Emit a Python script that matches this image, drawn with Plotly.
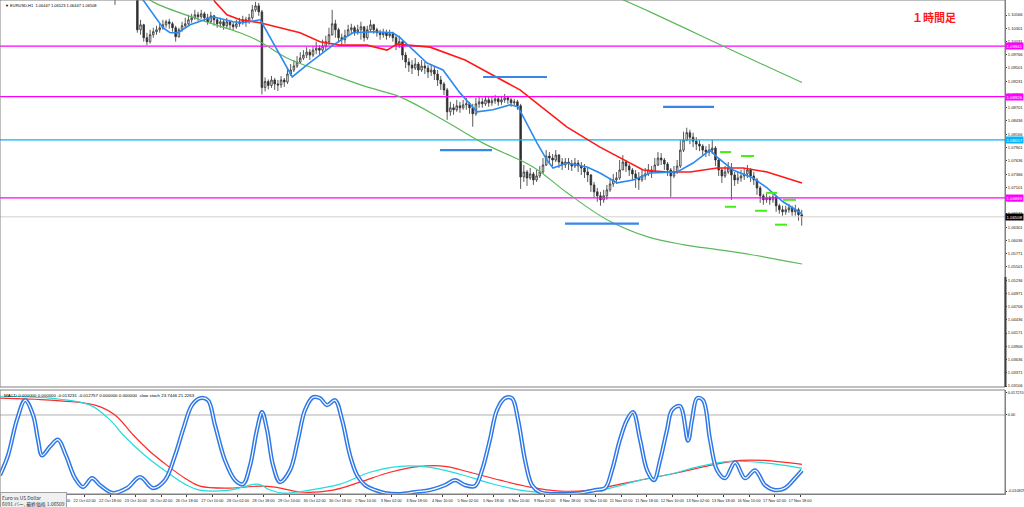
import plotly.graph_objects as go

# ---------------- data ----------------
first_bar_hour = 66          # hour index (0 = 20 Oct 02:00) of first 2-hour candle
first_open = 11095           # prices in pips (1/10000)
close_p = [11091,11103,11117,11123,11117,11107,11097,11027,11037,11011,11003,11017,11023,11027,11031,11037,
           11043,11039,11031,11013,11027,11035,11039,11047,11051,11057,11053,11059,11051,11043,11055,11047,
           11039,11043,11035,11043,11037,11033,11039,11043,11047,11043,11051,11067,11075,11063,10911,10923,
           10915,10926,10918,10916,10926,10922,10938,10946,10954,10962,10970,10976,10982,10976,10986,10990,
           10986,10994,11003,11017,11039,11027,11011,11007,11015,11027,11031,11023,11027,11033,11011,11027,
           11037,11027,11021,11017,11021,11015,11019,11011,10996,11003,10976,10962,10956,10950,10958,10946,
           10954,10950,10942,10946,10938,10926,10918,10906,10862,10870,10866,10874,10870,10876,10878,10870,
           10858,10878,10882,10878,10886,10880,10884,10888,10882,10886,10890,10886,10880,10882,10874,10731,
           10741,10729,10737,10725,10733,10741,10755,10773,10769,10765,10775,10761,10755,10761,10757,10753,
           10759,10753,10749,10741,10735,10715,10701,10693,10685,10693,10705,10717,10725,10729,10745,10761,
           10753,10745,10737,10729,10725,10733,10737,10745,10741,10755,10769,10765,10757,10745,10733,10741,
           10753,10785,10805,10820,10811,10803,10797,10793,10785,10781,10785,10789,10765,10745,10733,10741,
           10749,10735,10725,10729,10733,10737,10745,10733,10725,10709,10693,10685,10689,10685,10691,10673,
           10665,10661,10665,10669,10661,10665,10655,10651]
high_p = [11111,11117,11131,11137,11131,11123,11111,11095,11047,11039,11021,11027,11031,11035,11039,11047,
          11047,11049,11043,11035,11031,11043,11051,11057,11059,11067,11063,11067,11063,11059,11063,11057,
          11051,11051,11047,11051,11047,11043,11047,11051,11055,11053,11059,11077,11083,11081,11067,10931,
          10927,10934,10930,10926,10934,10930,10950,10958,10966,10974,10982,10986,10992,10988,10994,11003,
          10996,11007,11015,11031,11067,11047,11031,11019,11027,11037,11039,11035,11037,11043,11027,11035,
          11047,11039,11031,11027,11029,11027,11027,11023,11017,11015,10996,10982,10970,10966,10970,10962,
          10966,10962,10956,10958,10954,10946,10934,10922,10910,10882,10878,10886,10882,10886,10890,10882,
          10878,10890,10892,10890,10894,10892,10894,10896,10892,10894,10898,10894,10890,10888,10886,10878,
          10755,10745,10749,10741,10745,10753,10769,10785,10781,10777,10785,10777,10769,10769,10769,10765,
          10769,10765,10761,10757,10749,10737,10721,10709,10701,10705,10715,10729,10737,10741,10765,10775,
          10765,10757,10749,10745,10741,10745,10749,10757,10753,10769,10781,10779,10769,10761,10749,10753,
          10765,10805,10822,10830,10826,10820,10811,10805,10797,10793,10797,10805,10793,10769,10749,10753,
          10761,10759,10741,10741,10745,10749,10755,10749,10741,10729,10713,10697,10697,10693,10697,10689,
          10677,10673,10673,10677,10673,10675,10669,10665]
low_p = [11077,11087,11099,11107,11103,11093,11091,11021,11017,11003,10996,10999,11011,11017,11021,11027,
         11031,11029,11023,11003,11011,11023,11031,11035,11041,11047,11045,11049,11043,11037,11039,11035,
         11031,11031,11027,11029,11027,11025,11029,11033,11037,11033,11039,11047,11063,11055,10897,10903,
         10907,10910,10906,10904,10910,10912,10918,10934,10942,10950,10958,10966,10970,10966,10972,10978,
         10976,10982,10986,10996,11015,11011,11001,10996,10999,11015,11019,11015,11017,11007,11003,11007,
         11023,11019,11013,11007,11011,11007,11011,11003,10986,10990,10966,10950,10942,10938,10946,10934,
         10942,10938,10930,10934,10926,10914,10906,10896,10846,10854,10856,10862,10860,10866,10866,10858,
         10832,10854,10870,10870,10874,10872,10874,10878,10874,10876,10880,10878,10872,10874,10866,10707,
         10721,10713,10725,10715,10721,10729,10737,10753,10757,10753,10761,10749,10745,10749,10745,10743,
         10749,10741,10735,10729,10721,10701,10689,10681,10673,10679,10685,10701,10711,10717,10725,10749,
         10741,10733,10725,10709,10705,10721,10725,10733,10729,10741,10753,10755,10745,10733,10691,10729,
         10737,10749,10781,10803,10797,10791,10785,10783,10775,10771,10773,10777,10753,10733,10719,10729,
         10737,10685,10713,10717,10721,10725,10729,10721,10715,10695,10679,10675,10679,10675,10679,10661,
         10657,10653,10655,10659,10653,10653,10643,10633]

# moving averages / bands: (hour index, price in pips)
ma_blue_h = [81,84.5,97,101.5,106.5,114,128.4,141,147,158,178,187,203.5,216,228.6,241,245.5,262.4,272.4,283,
             293.7,303.7,314.4,319.4,331.3,337.5,341.3,350,362.6,370.7,381.4,391.4,402,419,429,439.6,444,454,
             466.5,475.3,485.3,497.2]
ma_blue_p = [11103,11087,11031,11021,11021,11037,11053,11043,11041,11047,10932,10956,10996,11021,11023,11021,
             11011,10960,10946,10900,10862,10866,10876,10872,10799,10765,10749,10759,10751,10739,10719,10725,
             10739,10741,10759,10785,10771,10745,10729,10709,10681,10657]
ma_red_h = [126.5,129.6,137.1,145.3,157.8,182.9,195.4,207.9,224.8,237.3,243.6,264.3,286.2,320.6,350.1,370.7,
            397.7,412.7,427.1,444,460.3,475.3,497.2]
ma_red_p = [11103,11083,11057,11047,11041,11021,11003,10996,10996,10986,10998,10992,10966,10906,10831,10791,
            10745,10741,10741,10749,10749,10741,10719]
green_low_h = [82.7,90.8,120.2,145.3,157.8,174.7,203.5,224.8,245.5,272.4,297.5,328.8,350.1,375.1,400.2,422.7,
               444,464.7,497.2]
green_low_p = [11103,11083,11047,11021,11003,10970,10936,10912,10892,10846,10799,10751,10699,10645,10611,10595,
               10585,10575,10556]
green_up_h = [378.2,402,433.3,466.5,497.2]
green_up_p = [11097,11063,11016,10966,10921]

# horizontal levels
magenta_levels = [1.09941, 1.08926, 1.06889]
cyan_level = 1.08057
last_price = 1.06508
blue_segments = [(297.5, 337.5, 10932), (270.5, 303.1, 10785), (410.2, 442.1, 10872), (348.8, 395.1, 10637)]
green_dashes = [(445.9, 452.8, 10781), (459.0, 467.2, 10773), (474.7, 481.6, 10699), (485.3, 493.5, 10685),
                (449.0, 455.9, 10671), (467.8, 475.3, 10663), (480.3, 487.8, 10635)]

# oscillator window (stochastic scale 0-100)
stoch_h = [-5,0,5.6,10.7,15.7,18.8,21.3,26.3,31.3,36.3,42,47,52.6,57.6,65.8,74.5,82.7,90.8,98.3,104.6,109.6,
           115.2,120.2,125.2,129.6,135.9,142.2,147.2,151.6,155.9,159.1,162.2,166,170.3,176.6,181.6,186,191,
           195.4,199.8,204.8,209.2,214.2,218.6,223.6,229.8,236.1,245.5,254.9,264.3,273.7,279.9,286.2,292.4,
           296.8,301.8,306.2,311.2,315.6,319.4,323.8,328.1,333.1,339.4,348.8,358.2,367.6,373.9,378.2,383.2,
           387.6,391.4,395.8,400.2,404.5,408.3,412.7,415.8,420.8,425.8,428.3,431.5,435.2,439.6,444,449,455.3,
           461.5,467.8,474,480.3,486.6,492.8,497.2]
stoch_v = [19,39,75,95,80,55,39,48,55,39,16,7,16,9,1,6,17,6,14,39,65,90,97,95,70,34,14,10,29,65,83,65,29,12,
           24,55,85,98,97,90,95,75,39,19,9,4,1,0,2,4,9,14,9,8,24,55,85,97,97,75,34,9,2,0,0,1,4,6,24,55,75,83,55,
           24,14,34,65,85,89,54,75,97,95,55,24,16,32,16,24,9,4,6,16,24]
macd_red_h = [-5,26.3,54.5,67,78.3,88.9,99.6,110.8,120.2,139,157.8,167.2,182.9,203.5,220.4,239.2,258,273.7,
              289.3,308.1,326.9,345.7,364.5,383.2,402,420.8,439.6,458.4,474,486.6,497.2]
macd_red_v = [97,95,90,80,60,43,29,16,8,6,8,7,2,4,12,22,28,28,22,14,7,3,4,10,16,22,29,34,34,32,30]
macd_cyan_h = [-5,26.3,51.4,63.9,72,85.8,99.6,110.8,120.2,139,156.6,164.1,172.2,189.1,207.9,226.7,245.5,264.3,
               283.1,301.8,320.6,339.4,358.2,377,395.8,414.6,433.3,452.1,471,486.6,497.2]
macd_cyan_v = [99,97,90,75,60,39,22,10,4,4,10,4,1,4,10,22,28,27,20,11,4,1,1,6,14,20,28,33,32,29,26]
stoch_level = 80

# axis labels
price_labels = ["1.10566","1.10301","1.10031","1.09766","1.09501","1.09231","1.08966","1.08701","1.08436",
                "1.08166","1.07901","1.07636","1.07366","1.07101","1.06836","1.06571","1.06301","1.06036",
                "1.05771","1.05501","1.05236","1.04971","1.04706","1.04436","1.04171","1.03906","1.03636",
                "1.03371","1.03106"]
time_labels = ["20 Oct 02:00","20 Oct 18:00","21 Oct 10:00","22 Oct 02:00","22 Oct 18:00","23 Oct 10:00",
               "26 Oct 02:00","26 Oct 18:00","27 Oct 10:00","28 Oct 02:00","28 Oct 18:00","29 Oct 10:00",
               "30 Oct 02:00","30 Oct 18:00","2 Nov 10:00","3 Nov 02:00","3 Nov 18:00","4 Nov 10:00",
               "5 Nov 02:00","5 Nov 18:00","6 Nov 10:00","9 Nov 02:00","9 Nov 18:00","10 Nov 10:00",
               "11 Nov 02:00","11 Nov 18:00","12 Nov 10:00","13 Nov 02:00","13 Nov 18:00","16 Nov 10:00",
               "17 Nov 02:00","17 Nov 18:00"]
hours_per_label = 16
osc_labels = ["0.017270", "0.00", "-0.010829"]
osc_label_pos = [103, 80, 3]
header_text = "▼ EURUSD,H1  1.06447 1.06523 1.06447 1.06508"
osc_text = "MACD 0.000000 0.000000 -0.013231 -0.012757 0.000000 0.000000  slow stoch 23.7446 21.2263"
tf_text = "１時間足"
info_lines = ["Euro vs US Dollar", "6091 バー, 最終価格 1.06509"]

# ---------------- build ----------------
pip = 1e-4
n = len(close_p)
bx = [first_bar_hour + 2 * i + 1 for i in range(n)]
opens = [first_open] + close_p[:-1]
O = [v * pip for v in opens]
C = [v * pip for v in close_p]
H = [max(h, o, c) * pip for h, o, c in zip(high_p, opens, close_p)]
L = [min(l, o, c) * pip for l, o, c in zip(low_p, opens, close_p)]

fig = go.Figure()
XR = [-5, 624.3]
FONT = "Liberation Sans"
MAIN_DOM = [0.2166, 1]
SUB_DOM = [0, 0.2105]

# horizontal lines (main)
for lv in magenta_levels:
    fig.add_trace(go.Scatter(x=XR, y=[lv, lv], mode="lines", line=dict(color="#ff00ff", width=1.2),
                             hoverinfo="skip", xaxis="x", yaxis="y"))
fig.add_trace(go.Scatter(x=XR, y=[cyan_level, cyan_level], mode="lines", line=dict(color="#00b4ff", width=1.2),
                         hoverinfo="skip", xaxis="x", yaxis="y"))
fig.add_trace(go.Scatter(x=XR, y=[last_price, last_price], mode="lines", line=dict(color="#d0d0d0", width=1),
                         hoverinfo="skip", xaxis="x", yaxis="y"))

fig.add_trace(go.Scatter(x=green_low_h, y=[v * pip for v in green_low_p], mode="lines",
                         line=dict(color="#5cb85c", width=1.2, shape="spline"), xaxis="x", yaxis="y"))
fig.add_trace(go.Scatter(x=green_up_h, y=[v * pip for v in green_up_p], mode="lines",
                         line=dict(color="#5cb85c", width=1.2, shape="spline"), xaxis="x", yaxis="y"))

fig.add_trace(go.Candlestick(x=bx, open=O, high=H, low=L, close=C,
                             increasing=dict(line=dict(color="#303030", width=0.8), fillcolor="#ffffff"),
                             decreasing=dict(line=dict(color="#303030", width=0.8), fillcolor="#303030"),
                             whiskerwidth=0, xaxis="x", yaxis="y"))

fig.add_trace(go.Scatter(x=ma_red_h, y=[v * pip for v in ma_red_p], mode="lines",
                         line=dict(color="#ff1a1a", width=1.6), xaxis="x", yaxis="y"))
fig.add_trace(go.Scatter(x=ma_blue_h, y=[v * pip for v in ma_blue_p], mode="lines",
                         line=dict(color="#2b8af0", width=1.6), xaxis="x", yaxis="y"))

for x0, x1, p in blue_segments:
    fig.add_trace(go.Scatter(x=[x0, x1], y=[p * pip, p * pip], mode="lines",
                             line=dict(color="#3a86e8", width=2.2), xaxis="x", yaxis="y"))
for x0, x1, p in green_dashes:
    fig.add_trace(go.Scatter(x=[x0, x1], y=[p * pip, p * pip], mode="lines",
                             line=dict(color="#44ee11", width=2), xaxis="x", yaxis="y"))

# oscillator
fig.add_trace(go.Scatter(x=XR, y=[stoch_level, stoch_level], mode="lines", line=dict(color="#b0b0b0", width=1),
                         xaxis="x2", yaxis="y2"))
fig.add_trace(go.Scatter(x=macd_red_h, y=macd_red_v, mode="lines",
                         line=dict(color="#ff2a2a", width=1.2, shape="spline"), xaxis="x2", yaxis="y2"))
fig.add_trace(go.Scatter(x=macd_cyan_h, y=macd_cyan_v, mode="lines",
                         line=dict(color="#22dddd", width=1.2, shape="spline"), xaxis="x2", yaxis="y2"))
fig.add_trace(go.Scatter(x=stoch_h, y=stoch_v, mode="lines",
                         line=dict(color="#2f78e6", width=4.2, shape="spline"), xaxis="x2", yaxis="y2"))
fig.add_trace(go.Scatter(x=stoch_h, y=stoch_v, mode="lines",
                         line=dict(color="#ffffff", width=1.2, shape="spline"), xaxis="x2", yaxis="y2"))

tickfont = dict(family=FONT, size=4.1, color="#202020")
fig.update_layout(
    width=1024, height=507, margin=dict(l=0, r=19, t=0, b=13, autoexpand=False),
    paper_bgcolor="white", plot_bgcolor="white", showlegend=False,
    xaxis=dict(domain=[0, 1], range=XR, anchor="y", showticklabels=False, showgrid=False, zeroline=False,
               rangeslider=dict(visible=False), fixedrange=True),
    yaxis=dict(domain=MAIN_DOM, range=[1.03086, 1.10868], side="right", anchor="x",
               tickvals=[float(s) for s in price_labels], ticktext=price_labels, tickfont=tickfont,
               ticks="outside", ticklen=1, tickcolor="#404040", showgrid=False, zeroline=False,
               showline=True, linecolor="#808080", linewidth=1, automargin=False),
    xaxis2=dict(domain=[0, 1], range=XR, anchor="y2", showgrid=False, zeroline=False,
                tickvals=[i * hours_per_label for i in range(len(time_labels))], ticktext=time_labels,
                tickfont=dict(family=FONT, size=3.9, color="#202020"), ticks="outside", ticklen=2,
                tickcolor="#404040", showline=True, linecolor="#808080", linewidth=1, tickangle=0,
                automargin=False),
    yaxis2=dict(domain=SUB_DOM, range=[0, 105.3], side="right", anchor="x2",
                tickvals=osc_label_pos, ticktext=osc_labels, tickfont=dict(family=FONT, size=3.8, color="#202020"),
                ticks="outside", ticklen=1, tickcolor="#404040", showgrid=False, zeroline=False,
                showline=True, linecolor="#808080", linewidth=1, automargin=False),
)

shapes = [
    dict(type="rect", xref="paper", yref="paper", x0=0, x1=1, y0=MAIN_DOM[0], y1=MAIN_DOM[1],
         line=dict(color="#808080", width=1)),
    dict(type="rect", xref="paper", yref="paper", x0=0, x1=1, y0=SUB_DOM[0], y1=SUB_DOM[1],
         line=dict(color="#808080", width=1)),
    dict(type="line", xref="paper", yref="paper", x0=1.0005, x1=1.0005, y0=MAIN_DOM[0], y1=0.4393,
         line=dict(color="#404040", width=2)),
]
fig.update_layout(shapes=shapes)

ann = []
def tag(yv, text, bg, fg="white"):
    ann.append(dict(xref="paper", yref="y", x=1.0, y=yv, xanchor="left", yanchor="middle", text=text,
                    showarrow=False, bgcolor=bg, font=dict(family=FONT, size=4.3, color=fg), borderpad=0.5))
for lv in magenta_levels:
    tag(lv, f"{lv:.5f}", "#ff00ff")
tag(cyan_level, f"{cyan_level:.5f}", "#00b4ff")
tag(last_price, f"{last_price:.5f}", "#000000")

ann.append(dict(xref="paper", yref="paper", x=0.003, y=0.998, xanchor="left", yanchor="top", text=header_text,
                showarrow=False, font=dict(family=FONT, size=4, color="#000000")))
ann.append(dict(xref="paper", yref="paper", x=0.002, y=SUB_DOM[1] - 0.001, xanchor="left", yanchor="top",
                text=osc_text, showarrow=False, font=dict(family=FONT, size=4.4, color="#000000")))
ann.append(dict(xref="paper", yref="paper", x=0.953, y=0.985, xanchor="right", yanchor="top",
                text="<b>" + tf_text + "</b>", showarrow=False,
                font=dict(family="Noto Sans CJK JP", size=11, color="#ff1a1a")))
ann.append(dict(xref="paper", yref="paper", x=0.0, y=0.005, xanchor="left", yanchor="top",
                text=info_lines[0] + "<br>" + info_lines[1], align="left", showarrow=False,
                bgcolor="#f0f0f0", bordercolor="#a0a0a0", borderwidth=1, borderpad=1,
                font=dict(family="Noto Sans CJK JP", size=4.9, color="#303030")))
fig.update_layout(annotations=ann)

fig.write_html("out.html", config={"displayModeBar": False},
               post_script="document.body.style.margin='0';document.body.style.overflow='hidden';")
